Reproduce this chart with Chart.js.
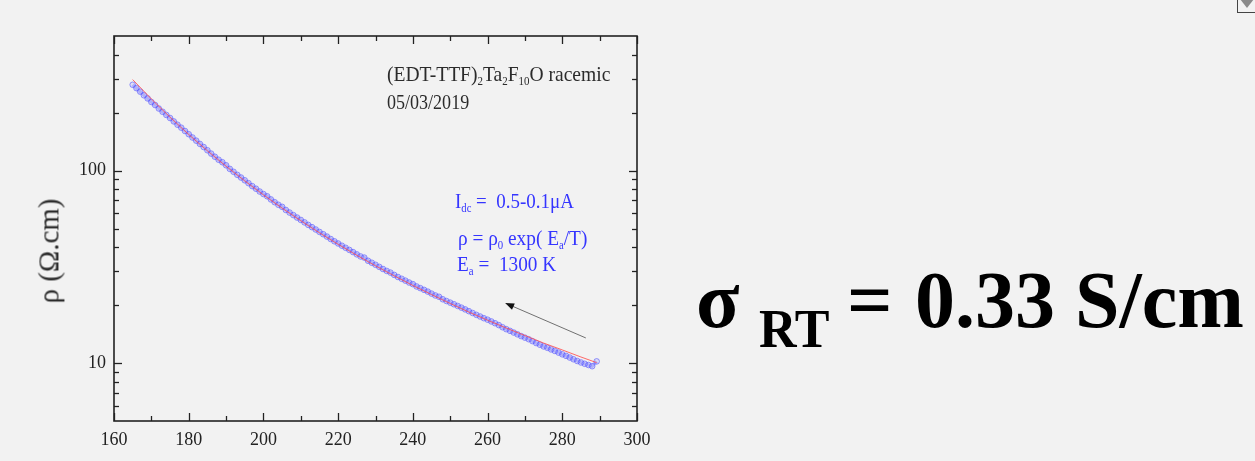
<!DOCTYPE html>
<html>
<head>
<meta charset="utf-8">
<script src="https://cdn.jsdelivr.net/npm/chart.js@4.4.1/dist/chart.umd.min.js"></script>
<style>
  html, body { margin: 0; padding: 0; background: #f2f2f2; width: 1255px; height: 461px; overflow: hidden; }
  #wrap { position: relative; width: 1255px; height: 461px; }
  canvas { position: absolute; left: 0; top: 0; }
  .t { position: absolute; white-space: nowrap; font-family: 'Liberation Serif', 'Times New Roman', serif; margin: 0; padding: 0; }
  .blk { color: #2b2b2b; }
  .blu { color: #3535ff; }
  .big { color: #000; font-weight: bold; }
  .sub { font-size: 0.56em; position: relative; top: 0.36em; }
  #icon { position: absolute; left: 1237px; top: -1px; width: 18px; height: 14px; border-left: 1.5px solid #444; border-bottom: 1.5px solid #444; box-sizing: border-box; }
  #icon i { position: absolute; left: 2px; top: 0; width: 0; height: 0; border-left: 7px solid transparent; border-right: 7px solid transparent; border-top: 9px solid #8a8a8a; }
</style>
</head>
<body>
<div id="wrap">
  <canvas id="c" width="1255" height="461"></canvas>
  <div class="t blk" id="ytitle">ρ (Ω.cm)</div>
  <div class="t blk" id="a1">(EDT-TTF)<span class="sub">2</span>Ta<span class="sub">2</span>F<span class="sub">10</span>O racemic</div>
  <div class="t blk" id="a2">05/03/2019</div>
  <div class="t blu" id="b1">I<span class="sub">dc</span> =&nbsp; 0.5-0.1μA</div>
  <div class="t blu" id="b2">ρ = ρ<span class="sub">0</span> exp( E<span class="sub">a</span>/T)</div>
  <div class="t blu" id="b3">E<span class="sub">a</span> =&nbsp; 1300 K</div>
  <div class="t big" id="s1">σ</div>
  <div class="t big" id="s2">RT</div>
  <div class="t big" id="s3">=</div>
  <div class="t big" id="s4">0.33 S/cm</div>
  <div id="icon"><i></i></div>
</div>
<script>
// ---------- data ----------
const tempK = [165,166,167,168,169,170,171,172,173,174,175,176,177,178,179,180,181,182,183,184,185,186,187,188,189,190,191,192,193,194,195,196,197,198,199,200,201,202,203,204,205,206,207,208,209,210,211,212,213,214,215,216,217,218,219,220,221,222,223,224,225,226,227,228,229,230,231,232,233,234,235,236,237,238,239,240,241,242,243,244,245,246,247,248,249,250,251,252,253,254,255,256,257,258,259,260,261,262,263,264,265,266,267,268,269,270,271,272,273,274,275,276,277,278,279,280,281,282,283,284,285,286,287,288,289.2];
const rhoData = [279,268,257,246,237,227,219,210,202,194.5,187.5,180,173,167,160.5,154.5,148.5,143,137.5,132.5,127.5,122.5,118,113.8,110.5,106.5,102,98.5,95,92,89,86,83,80.5,77.8,75.5,73.5,70.8,68.5,66.4,64.8,62.4,60.5,58.7,57.0,55.4,53.8,52.2,50.8,49.4,48.0,46.7,45.4,44.1,42.9,41.8,40.7,39.7,38.7,37.7,36.7,35.8,35.3,34.0,33.2,32.4,31.6,30.8,30.1,29.5,28.7,28.0,27.4,26.8,26.2,25.7,25.0,24.5,24.0,23.5,22.95,22.45,22.1,21.45,21.0,20.6,20.2,19.8,19.4,19.0,18.6,18.2,17.8,17.45,17.1,16.8,16.45,16.1,15.75,15.35,15.0,14.7,14.4,14.1,13.8,13.55,13.3,13.0,12.7,12.45,12.2,12.0,11.77,11.56,11.33,11.1,10.9,10.68,10.46,10.25,10.07,9.91,9.77,9.63,10.2];
const fitT   = [165,170,175,180,185,190,195,200,205,210,215,220,225,230,235,240,245,250,255,260,265,270,275,280,285,289.2];
const fitRho = [296.8,235.5,189.3,153.9,126.7,105.3,88.4,74.8,63.8,54.9,47.5,41.4,36.3,32.0,28.4,25.3,22.7,20.4,18.4,16.7,15.2,13.9,12.7,11.7,10.75,10.05];
const xMajor = [160,180,200,220,240,260,280,300];
const xMinor = [170,190,210,230,250,270,290];
const yMajor = [10,100];
const yMinor = [6,7,8,9,20,30,40,50,60,70,80,90,200,300,400];
const arrowTail = [286.3, 13.5];
const arrowHead = [264.7, 20.5];

const framePlugin = {
  id: 'frame',
  afterDatasetsDraw(chart) {
    const { ctx, chartArea: a, scales: { x, y } } = chart;
    ctx.save();
    ctx.strokeStyle = '#222';
    ctx.lineWidth = 1.3;
    const line = (x1, y1, x2, y2) => { ctx.beginPath(); ctx.moveTo(x1, y1); ctx.lineTo(x2, y2); ctx.stroke(); };
    const xt = (vals, len) => vals.forEach(v => { const p = Math.round(x.getPixelForValue(v)) + 0.5; line(p, a.bottom, p, a.bottom - len); line(p, a.top, p, a.top + len); });
    const yt = (vals, len) => vals.forEach(v => { const p = Math.round(y.getPixelForValue(v)) + 0.5; line(a.left, p, a.left + len, p); line(a.right, p, a.right - len, p); });
    xt(xMajor, 8); xt(xMinor, 5); yt(yMajor, 8); yt(yMinor, 5);
    ctx.lineWidth = 1.6;
    ctx.strokeRect(a.left, a.top, a.right - a.left, a.bottom - a.top);
    // arrow
    const x1 = x.getPixelForValue(arrowTail[0]), y1 = y.getPixelForValue(arrowTail[1]);
    const x2 = x.getPixelForValue(arrowHead[0]), y2 = y.getPixelForValue(arrowHead[1]);
    const ang = Math.atan2(y2 - y1, x2 - x1);
    ctx.strokeStyle = '#707070'; ctx.lineWidth = 1;
    line(x1, y1, x2 - 7 * Math.cos(ang), y2 - 7 * Math.sin(ang));
    ctx.fillStyle = '#111';
    ctx.beginPath();
    ctx.moveTo(x2, y2);
    ctx.lineTo(x2 - 9 * Math.cos(ang) + 3.5 * Math.sin(ang), y2 - 9 * Math.sin(ang) - 3.5 * Math.cos(ang));
    ctx.lineTo(x2 - 9 * Math.cos(ang) - 3.5 * Math.sin(ang), y2 - 9 * Math.sin(ang) + 3.5 * Math.cos(ang));
    ctx.closePath(); ctx.fill();
    ctx.restore();
  }
};

Chart.defaults.font.family = "'Liberation Serif', 'Times New Roman', serif";

new Chart(document.getElementById('c'), {
  type: 'scatter',
  data: {
    datasets: [
      {
        label: 'fit',
        data: fitT.map((t, i) => ({ x: t, y: fitRho[i] })),
        showLine: true, borderColor: 'rgba(255,80,80,0.85)', borderWidth: 1,
        pointRadius: 0, fill: false
      },
      {
        label: 'data',
        data: tempK.map((t, i) => ({ x: t, y: rhoData[i] })),
        showLine: true, borderColor: 'rgba(110,110,255,0.45)', borderWidth: 3.5,
        pointRadius: 2.8, pointBorderWidth: 1,
        pointBorderColor: 'rgba(80,80,255,0.6)', pointBackgroundColor: 'rgba(150,150,255,0.2)'
      }
    ]
  },
  options: {
    responsive: false, animation: false, devicePixelRatio: 1,
    layout: { padding: { left: 0, top: 36, right: 618, bottom: 0 } },
    plugins: { legend: { display: false }, tooltip: { enabled: false } },
    scales: {
      x: {
        type: 'linear', min: 160, max: 300,
        afterBuildTicks: s => { s.ticks = xMajor.map(v => ({ value: v })); },
        afterFit: s => { s.height = 40; },
        ticks: { font: { size: 18 }, color: '#222', padding: 8, maxRotation: 0, autoSkip: false, callback: v => String(v) },
        grid: { display: false, drawTicks: false }, border: { display: false }
      },
      y: {
        type: 'logarithmic', min: 5, max: 500,
        afterBuildTicks: s => { s.ticks = yMajor.map(v => ({ value: v })); },
        afterFit: s => { s.width = 114; },
        ticks: { font: { size: 18 }, color: '#222', padding: 8, autoSkip: false, callback: v => String(v) },
        grid: { display: false, drawTicks: false }, border: { display: false }
      }
    }
  },
  plugins: [framePlugin]
});

// ---------- text placement ----------
function place(id, x, base, size, w) {
  const el = document.getElementById(id);
  el.style.fontSize = size + 'px';
  el.style.lineHeight = size + 'px';
  el.style.left = x + 'px';
  const probe = document.createElement('span');
  probe.style.cssText = 'display:inline-block;width:0;height:0;vertical-align:baseline';
  el.appendChild(probe);
  const b = probe.offsetTop;
  el.removeChild(probe);
  el.style.top = (base - b) + 'px';
  if (w) {
    const nat = el.offsetWidth;
    el.style.transformOrigin = '0 ' + b + 'px';
    el.style.transform = 'scaleX(' + (w / nat) + ')';
  }
}
place('a1', 387, 81, 22, 223);
place('a2', 387, 109, 22, 82);
place('b1', 455, 207.7, 21.7, 119);
place('b2', 457.5, 245, 20.5, 129);
place('b3', 457, 271, 21.6, 99);
place('s1', 696, 327, 80);
place('s2', 759, 346.7, 55, 70);
place('s3', 847, 327, 80);
place('s4', 915, 327, 80);

(function () {
  const el = document.getElementById('ytitle');
  const size = 30;
  el.style.fontSize = size + 'px';
  el.style.lineHeight = size + 'px';
  const W = el.offsetWidth, H = el.offsetHeight;
  const cx = 48, cy = 250.5;
  el.style.left = (cx - W / 2) + 'px';
  el.style.top = (cy - H / 2) + 'px';
  el.style.transformOrigin = '50% 50%';
  el.style.transform = 'rotate(-90deg) scaleX(' + (105 / W) + ')';
})();
</script>
</body>
</html>
